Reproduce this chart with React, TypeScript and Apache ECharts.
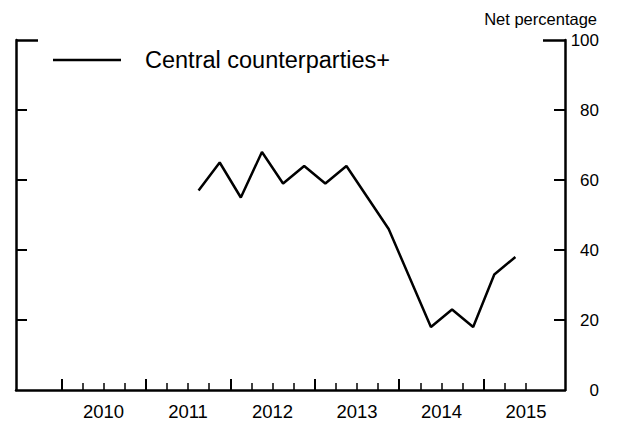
import React, { useEffect, useRef } from 'react';
import * as echarts from 'echarts';

const quarters = ['2011 Q3', '2011 Q4', '2012 Q1', '2012 Q2', '2012 Q3', '2012 Q4', '2013 Q1', '2013 Q2', '2013 Q3', '2013 Q4', '2014 Q1', '2014 Q2', '2014 Q3', '2014 Q4', '2015 Q1', '2015 Q2'];
const centralCounterparties = [57, 65, 55, 68, 59, 64, 59, 64, 55, 46, 32, 18, 23, 18, 33, 38];
const years = [2010, 2011, 2012, 2013, 2014, 2015];
const quarterTicks = [2010.25, 2010.5, 2010.75, 2011.25, 2011.5, 2011.75, 2012.25, 2012.5, 2012.75, 2013.25, 2013.5, 2013.75, 2014.25, 2014.5, 2014.75, 2015.25, 2015.5];
const yInnerTicks = [20, 40, 60, 80];
const yTopTick = [100];
const seriesName = 'Central counterparties+';

const FONT = '"Liberation Sans", Arial, Helvetica, sans-serif';
const X_MIN = 2009.464;
const X_MAX = 2015.962;

function quarterToX(q: string): number {
  const [y, qq] = q.split(' ');
  return Number(y) + (Number(qq.slice(1)) - 1) / 4 + 0.125;
}

export default function App() {
  const ref = useRef<HTMLDivElement>(null);
  useEffect(() => {
    if (!ref.current) return;
    const chart = echarts.init(ref.current, null, { renderer: 'svg' });
    const black = '#000';
    chart.setOption({
      animation: false,
      textStyle: { fontFamily: FONT },
      title: {
        text: 'Net percentage',
        right: 29,
        top: 10,
        padding: 0,
        textStyle: { fontSize: 16.5, fontWeight: 'normal', color: black, fontFamily: FONT },
      },
      legend: {
        data: [seriesName],
        left: 53,
        top: 48,
        padding: 0,
        icon: 'rect',
        itemWidth: 68,
        itemHeight: 2.5,
        textStyle: { fontSize: 23.5, color: black, fontFamily: FONT, padding: [0, 0, 0, 19] },
      },
      grid: { left: 16, right: 61, top: 40, bottom: 35 },
      xAxis: [
        {
          type: 'value',
          min: X_MIN,
          max: X_MAX,
          position: 'bottom',
          axisLine: { show: true, onZero: false, lineStyle: { color: black, width: 2.5 } },
          axisTick: { show: true, inside: true, length: 11, lineStyle: { color: black, width: 2 }, customValues: years },
          axisLabel: {
            show: true,
            customValues: years.map((y) => y + 0.5),
            formatter: (v: number) => String(Math.floor(v)),
            fontSize: 18.5,
            color: black,
            margin: 12,
            fontFamily: FONT,
          },
          splitLine: { show: false },
        },
        {
          type: 'value',
          min: X_MIN,
          max: X_MAX,
          position: 'bottom',
          axisLine: { show: false, onZero: false },
          axisTick: { show: true, inside: true, length: 7, lineStyle: { color: black, width: 1.5 }, customValues: quarterTicks },
          axisLabel: { show: false },
          splitLine: { show: false },
        },
      ],
      yAxis: [
        {
          type: 'value',
          min: 0,
          max: 100,
          interval: 20,
          position: 'right',
          axisLine: { show: true, onZero: false, lineStyle: { color: black, width: 2.5 } },
          axisTick: { show: true, inside: true, length: 11, lineStyle: { color: black, width: 2 }, customValues: yInnerTicks },
          axisLabel: { show: true, align: 'right', margin: 34, fontSize: 17, color: black, fontFamily: FONT },
          splitLine: { show: false },
        },
        {
          type: 'value',
          min: 0,
          max: 100,
          interval: 20,
          position: 'left',
          axisLine: { show: true, onZero: false, lineStyle: { color: black, width: 2.5 } },
          axisTick: { show: true, inside: true, length: 11, lineStyle: { color: black, width: 2 }, customValues: yInnerTicks },
          axisLabel: { show: false },
          splitLine: { show: false },
        },
        {
          type: 'value',
          min: 0,
          max: 100,
          interval: 20,
          position: 'left',
          axisLine: { show: false, onZero: false },
          axisTick: { show: true, inside: true, length: 22, lineStyle: { color: black, width: 2.5 }, customValues: yTopTick },
          axisLabel: { show: false },
          splitLine: { show: false },
        },
        {
          type: 'value',
          min: 0,
          max: 100,
          interval: 20,
          position: 'right',
          axisLine: { show: false, onZero: false },
          axisTick: { show: true, inside: true, length: 22, lineStyle: { color: black, width: 2.5 }, customValues: yTopTick },
          axisLabel: { show: false },
          splitLine: { show: false },
        },
      ],
      series: [
        {
          name: seriesName,
          type: 'line',
          xAxisIndex: 0,
          yAxisIndex: 0,
          symbol: 'none',
          lineStyle: { color: black, width: 2.5 },
          itemStyle: { color: black },
          data: quarters.map((q, i) => [quarterToX(q), centralCounterparties[i]]),
        },
      ],
    });
    return () => chart.dispose();
  }, []);
  return <div ref={ref} style={{ position: 'absolute', left: 0, top: 0, width: 626, height: 425 }} />;
}
